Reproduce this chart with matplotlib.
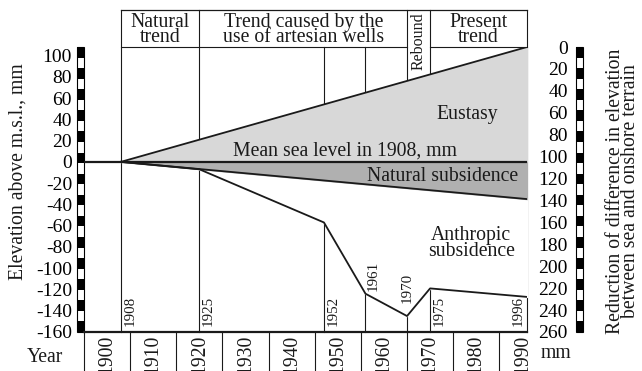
import matplotlib.pyplot as plt
import numpy as np
from matplotlib.patches import Rectangle
from matplotlib.transforms import blended_transform_factory

plt.rcParams['font.family'] = 'Liberation Serif'
plt.rcParams['axes.unicode_minus'] = False

# sea level and land movement, mm relative to 1908 mean sea level
eustasy_years = [1908, 1996]
eustasy = [0, 108]
natural_years = [1908, 1996]
natural = [0, -35]
anthropic_years = [1908, 1925, 1952, 1961, 1970, 1975, 1996]
anthropic = [0, -7, -57, -124, -145, -119, -127]

# periods shown in the header row
period_edges = [1908, 1925, 1970, 1975, 1996]
period_names = ["Natural\ntrend", "Trend caused by the\nuse of artesian wells",
                "Rebound", "Present\ntrend"]

decades = list(range(1900, 1991, 10))
left_ticks = list(range(-160, 101, 20))
right_ticks = list(range(0, 261, 20))

FS = 14.2
INK = '#1a1a1a'
LIGHT = '#d8d8d8'
DARK = '#b0b0b0'

fig = plt.figure(figsize=(6.42, 3.71), dpi=100)
ax = fig.add_axes([84 / 642, 39 / 371, 443 / 642, 285 / 371])
ax.set_xlim(1900, 1996)
ax.set_ylim(-160, 108)
for s in ax.spines.values():
    s.set_visible(False)
ax.set_xticks([])
ax.set_yticks(left_ticks)
ax.tick_params(axis='y', length=0, pad=8.6, labelsize=14)

ax2 = ax.twinx()
ax2.set_ylim(260, 0)
for s in ax2.spines.values():
    s.set_visible(False)
ax2.set_yticks(right_ticks)
ax2.tick_params(axis='y', length=0, pad=29.5, labelsize=14)
for lab in ax2.get_yticklabels():
    lab.set_ha('right')

tr = blended_transform_factory(ax.transData, ax.transAxes)
head_top = 1 + 37 / 285

# vertical marker lines (drawn first, covered by the fills)
marks = anthropic_years + [1996]
for yr in sorted(set(marks)):
    top = 1.0 if yr in (1952, 1961) else head_top
    ax.plot([yr, yr], [0, top], color=INK, lw=0.8, transform=tr,
            clip_on=False, zorder=1)

# white band between natural and anthropic subsidence hides the verticals
nat_at = np.interp(anthropic_years, natural_years, natural)
ax.fill_between(anthropic_years, anthropic, nat_at, color='white', zorder=1.5)

ax.fill_between(eustasy_years, 0, eustasy, color=LIGHT, zorder=2)
ax.fill_between(natural_years, natural, 0, color=DARK, zorder=2)

ax.plot(eustasy_years, eustasy, color=INK, lw=1.3, zorder=3)
ax.plot(natural_years, natural, color=INK, lw=1.3, zorder=3)
ax.plot([1900, 1996], [0, 0], color=INK, lw=1.6, zorder=3)
ax.plot(anthropic_years, anthropic, color=INK, lw=1.3, zorder=3)

# header box
ax.plot([1908, 1996], [head_top, head_top], color=INK, lw=0.9, transform=tr, clip_on=False)
ax.plot([1908, 1970], [1, 1], color=INK, lw=0.8, transform=tr, clip_on=False)
ax.plot([1975, 1996], [1, 1], color=INK, lw=0.8, transform=tr, clip_on=False)
for i, name in enumerate(period_names):
    xc = (period_edges[i] + period_edges[i + 1]) / 2
    if name == "Rebound":
        ax.text(xc, 1 + 5.5 / 285, name, transform=tr, rotation=90, ha='center',
                va='center', fontsize=11.5, color=INK)
    else:
        ax.text(xc, 1 + 17 / 285, name, transform=tr, ha='center', va='center',
                fontsize=FS, linespacing=0.78, color=INK)

# bottom frame and decade strip
ax.plot([1900, 1996], [0, 0], color=INK, lw=1.6, transform=tr, clip_on=False)
for d in decades:
    ax.plot([d, d], [0, -0.2], color=INK, lw=0.8, transform=tr, clip_on=False)
    ax.text(d + 5, -3 / 285, str(d), transform=tr, rotation=90, ha='center',
            va='top', fontsize=FS, color=INK)

# striped scale bars on both sides
nseg = 27
for k in range(nseg):
    col = 'black' if k % 2 == 0 else 'white'
    y0 = 1 - (k + 1) / nseg
    for x0 in (-7 / 443, 492 / 443):
        ax.add_patch(Rectangle((x0, y0), 7 / 443, 1 / nseg, transform=ax.transAxes,
                               facecolor=col, edgecolor='none', clip_on=False))
for x0 in (-7 / 443, 492 / 443):
    ax.add_patch(Rectangle((x0, 0), 7 / 443, 1, transform=ax.transAxes,
                           facecolor='none', edgecolor='black', lw=0.8, clip_on=False))

# labels inside the plot
ax.text(1983, 40, "Eustasy", ha='center', va='baseline', fontsize=FS, color=INK, zorder=4)
ax.text(1956.5, 5.6, "Mean sea level in 1908, mm", ha='center', va='baseline',
        fontsize=FS, color=INK, zorder=4)
ax.text(1977.6, -17.6, "Natural subsidence", ha='center', va='baseline',
        fontsize=FS, color=INK, zorder=4)
ax.text(1983.9, -88.5, "Anthropic\nsubsidence", ha='center', va='baseline',
        fontsize=FS, linespacing=0.76, color=INK, zorder=4)

sfs = 10.8
for yr in [1908, 1925, 1952, 1975]:
    ax.text(yr + 0.5, -154, str(yr), rotation=90, ha='left', va='bottom',
            fontsize=sfs, color=INK, zorder=4)
ax.text(1996 - 0.6, -154, "1996", rotation=90, ha='right', va='bottom',
        fontsize=sfs, color=INK, zorder=4)
ax.text(1961 + 0.3, anthropic[3] + 3, "1961", rotation=90, ha='left', va='bottom',
        fontsize=sfs, color=INK, zorder=4)
ax.text(1970, anthropic[4] + 12, "1970", rotation=90, ha='center', va='bottom',
        fontsize=sfs, color=INK, zorder=4)

fig.text(18 / 642, 1 - 172 / 371, "Elevation above m.s.l., mm", rotation=90,
         ha='center', va='center', fontsize=FS, color=INK)
fig.text(623 / 642, 1 - 191 / 371,
         "Reduction of difference in elevation\nbetween sea and onshore terrain",
         rotation=90, ha='center', va='center', fontsize=FS, linespacing=0.74, color=INK)
fig.text(45 / 642, 1 - 361.5 / 371, "Year", ha='center', va='baseline', fontsize=FS, color=INK)
fig.text(556 / 642, 1 - 358 / 371, "mm", ha='center', va='baseline', fontsize=FS, color=INK)

fig.savefig("out.png", dpi=100)
